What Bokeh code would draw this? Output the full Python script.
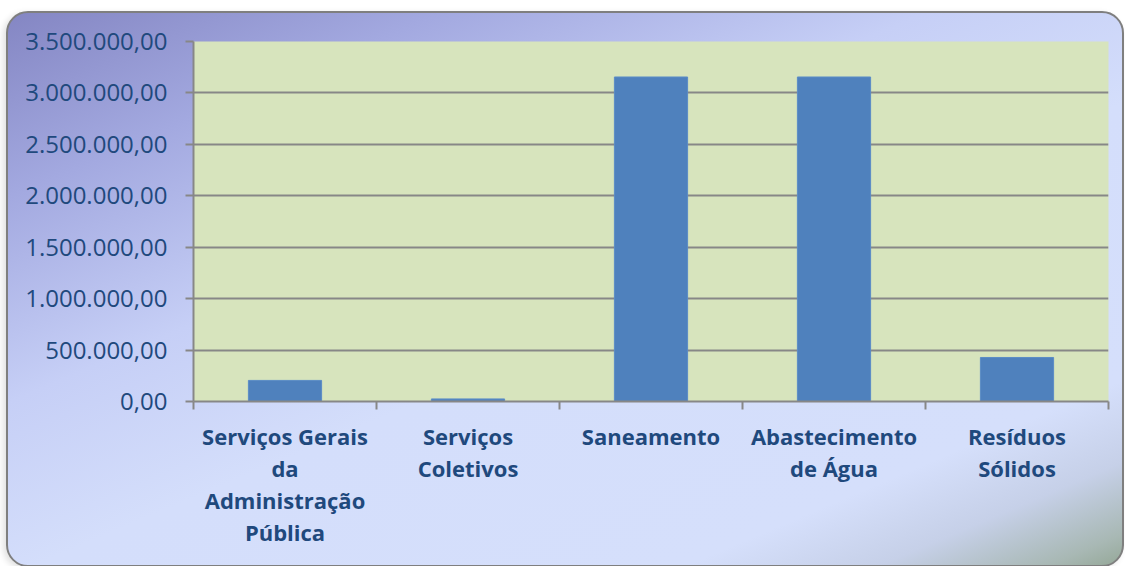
from bokeh.plotting import figure
from bokeh.models import FactorRange, Range1d, FixedTicker, LinearAxis, ColumnDataSource
from bokeh.embed import file_html
from bokeh.resources import INLINE

categories = ["Serviços Gerais da Administração Pública", "Serviços Coletivos",
              "Saneamento", "Abastecimento de Água", "Resíduos Sólidos"]
label_lines = [["Serviços Gerais", "da", "Administração", "Pública"],
               ["Serviços", "Coletivos"],
               ["Saneamento"],
               ["Abastecimento", "de Água"],
               ["Resíduos", "Sólidos"]]
values = [205000, 25000, 3155000, 3155000, 428000]
y_ticks = [0, 500000, 1000000, 1500000, 2000000, 2500000, 3000000, 3500000]


def fmt_br(v):
    s = f"{v:,.2f}"
    return s.replace(",", "X").replace(".", ",").replace("X", ".")


TEXT = "#1f497d"
GRID = "#878787"
FONT = "Open Sans"

p = figure(width=1118, height=556, output_backend="svg", toolbar_location=None,
           x_range=FactorRange(*categories, range_padding=0), y_range=Range1d(0, 3500000),
           x_axis_location=None,
           min_border_left=185, min_border_right=18, min_border_top=28, min_border_bottom=168,
           background_fill_color="#d7e4bd", border_fill_alpha=0, outline_line_color=None,
           styles={"margin": "11px 0 0 6px",
                   "border": "2px solid #7f7f7f",
                   "border-radius": "22px",
                   "box-shadow": "-3px 2px 6px rgba(0,0,0,0.12)",
                   "background": "linear-gradient(157deg, #8486c3 0%, #a3a9e0 18%, #c6cff6 38%, #d4defb 55%, #d5dffb 82%, #c6d0e8 90%, #a8b8b4 97%, #95a898 100%)"})

src = ColumnDataSource(dict(cat=categories, val=values))
p.vbar(x="cat", top="val", width=0.4, source=src,
       fill_color="#4f81bd", line_color="#5b8cc6", line_width=1)

# category labels: stacked axes, one per text line; labels sit at category centres
# (synthetic coordinates i + 0.5), the first axis also draws the boundary ticks
n_cat = len(categories)
n_lines = max(len(l) for l in label_lines)
for i in range(n_lines):
    pos = [k + 0.5 for k, l in enumerate(label_lines) if i < len(l)]
    txt = [l[i] for l in label_lines if i < len(l)]
    if i == 0:
        ticker = FixedTicker(ticks=pos, minor_ticks=list(range(n_cat + 1)))
    else:
        ticker = FixedTicker(ticks=pos)
    ax = LinearAxis(ticker=ticker)
    ax.major_label_overrides = dict(zip(pos, txt))
    ax.major_tick_line_color = None
    ax.major_tick_out = 0
    ax.major_tick_in = 0
    if i == 0:
        ax.axis_line_color = GRID
        ax.axis_line_width = 2
        ax.minor_tick_line_color = GRID
        ax.minor_tick_line_width = 2
        ax.minor_tick_out = 8
        ax.minor_tick_in = 0
        ax.major_label_standoff = 11
    else:
        ax.axis_line_color = None
        ax.minor_tick_line_color = None
        ax.major_label_standoff = -1
    ax.major_label_text_font = FONT
    ax.major_label_text_font_style = "bold"
    ax.major_label_text_font_size = "22px"
    ax.major_label_text_color = TEXT
    p.add_layout(ax, "below")

ya = p.yaxis[0]
ya.ticker = FixedTicker(ticks=y_ticks)
ya.major_label_overrides = {t: fmt_br(t) for t in y_ticks}
ya.major_label_text_font = FONT
ya.major_label_text_font_size = "24px"
ya.major_label_text_color = TEXT
ya.major_label_standoff = 18
ya.axis_line_color = GRID
ya.axis_line_width = 2
ya.major_tick_line_color = GRID
ya.major_tick_line_width = 2
ya.major_tick_out = 8
ya.major_tick_in = 0
ya.minor_tick_line_color = None

p.xgrid.grid_line_color = None
p.ygrid.ticker = FixedTicker(ticks=y_ticks)
p.ygrid.grid_line_color = GRID
p.ygrid.grid_line_width = 2

open("out.html", "w").write(file_html(p, INLINE))
